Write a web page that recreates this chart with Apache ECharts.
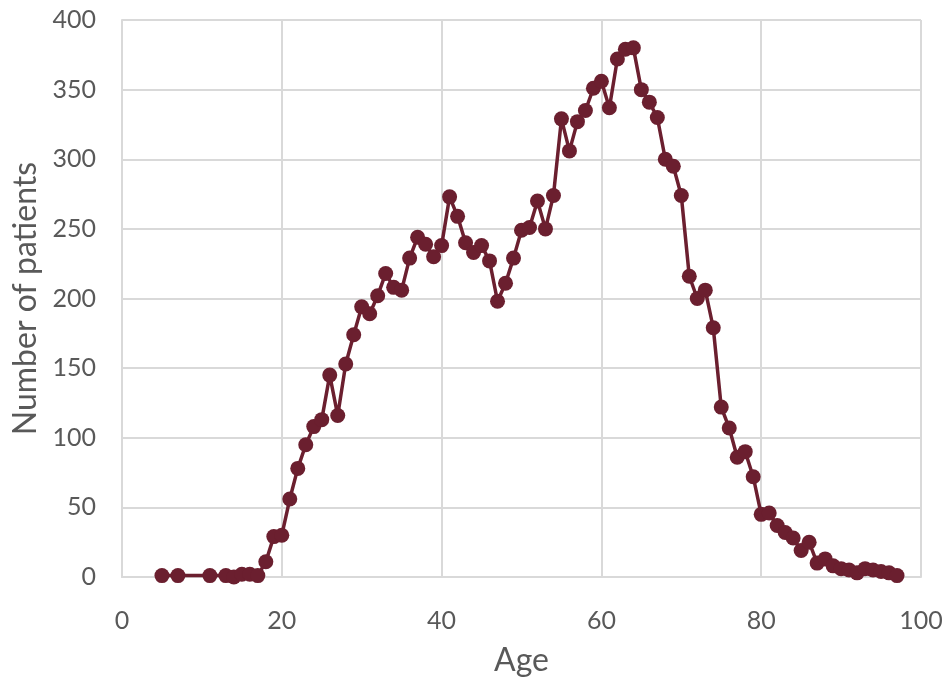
<!DOCTYPE html>
<html>
<head>
<meta charset="utf-8">
<script src="https://cdn.jsdelivr.net/npm/echarts@6/dist/echarts.min.js"></script>
<style>html,body{margin:0;padding:0;background:#fff}#c{width:952px;height:685px}</style>
</head>
<body>
<div id="c"></div>
<script>
const ages = [5,7,11,13,14,15,16,17,18,19,20,21,22,23,24,25,26,27,28,29,30,31,32,33,34,35,36,37,38,39,40,41,42,43,44,45,46,47,48,49,50,51,52,53,54,55,56,57,58,59,60,61,62,63,64,65,66,67,68,69,70,71,72,73,74,75,76,77,78,79,80,81,82,83,84,85,86,87,88,89,90,91,92,93,94,95,96,97];
const patients = [1,1,1,1,0,2,2,1,11,29,30,56,78,95,108,113,145,116,153,174,194,189,202,218,208,206,229,244,239,230,238,273,259,240,233,238,227,198,211,229,249,251,270,250,274,329,306,327,335,351,356,337,372,379,380,350,341,330,300,295,274,216,200,206,179,122,107,86,90,72,45,46,37,32,28,19,25,10,13,8,6,5,3,6,5,4,3,1];
const xTicks = [0,20,40,60,80,100];
const yTicks = [0,50,100,150,200,250,300,350,400];

const chart = echarts.init(document.getElementById('c'));
const font = 'Lato, "Open Sans", sans-serif';
chart.setOption({
  animation: false,
  grid: {left: 122, right: 31, top: 20, bottom: 108, containLabel: false, outerBoundsMode: 'none'},
  xAxis: {
    type: 'value', min: xTicks[0], max: xTicks[xTicks.length-1], interval: 20,
    name: 'Age', nameLocation: 'middle', nameGap: 68,
    nameTextStyle: {fontSize: 32, color: '#595959', fontFamily: font},
    axisLine: {show: true, lineStyle: {color: '#d9d9d9', width: 2}},
    axisTick: {show: false},
    axisLabel: {fontSize: 25, color: '#595959', fontFamily: font, margin: 31},
    splitLine: {show: true, lineStyle: {color: '#d9d9d9', width: 2}}
  },
  yAxis: {
    type: 'value', min: yTicks[0], max: yTicks[yTicks.length-1], interval: 50,
    name: 'Number of patients', nameLocation: 'middle', nameGap: 78, nameRotate: 90,
    nameTextStyle: {fontSize: 32, color: '#595959', fontFamily: font},
    axisLine: {show: true, lineStyle: {color: '#d9d9d9', width: 2}},
    axisTick: {show: false},
    axisLabel: {fontSize: 25, color: '#595959', fontFamily: font, margin: 26},
    splitLine: {show: true, lineStyle: {color: '#d9d9d9', width: 2}}
  },
  series: [{
    type: 'line',
    data: ages.map((a, i) => [a, patients[i]]),
    symbol: 'circle', symbolSize: 15,
    lineStyle: {color: '#6b1f2f', width: 3.5},
    itemStyle: {color: '#6b1f2f'},
    z: 3
  }]
});
</script>
</body>
</html>
